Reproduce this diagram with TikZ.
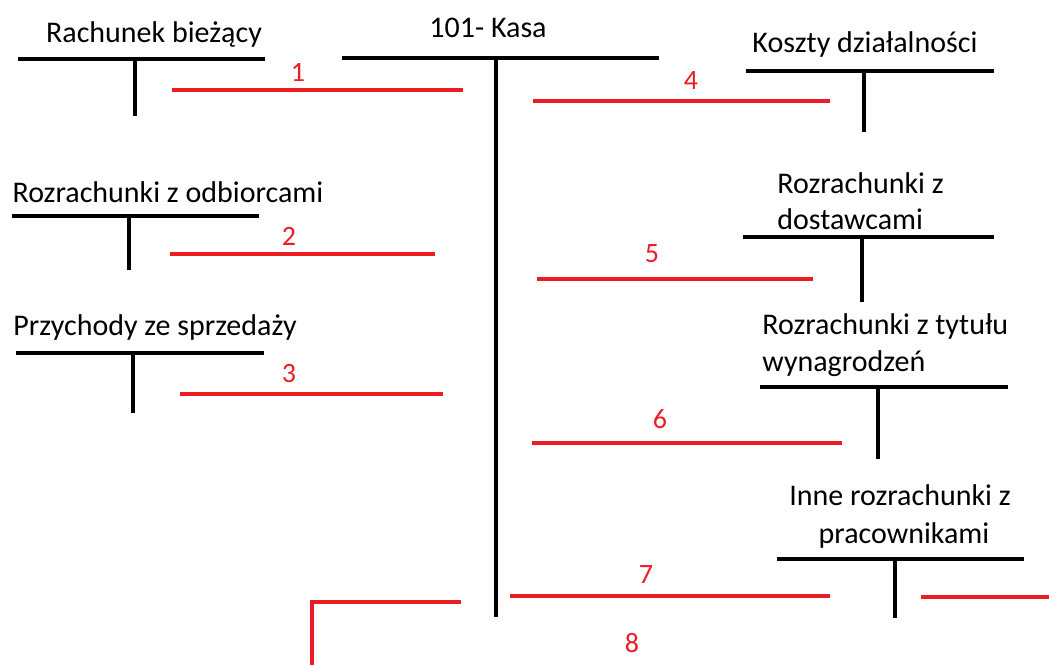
\documentclass[tikz,border=0pt]{standalone}
\usepackage{fontspec}
\setmainfont{Carlito}
\definecolor{czerwony}{RGB}{237,28,36}

\begin{document}
\begin{tikzpicture}[x=0.5pt,y=-0.5pt,
    konto/.style={line width=2pt,black},
    operacja/.style={line width=2pt,czerwony},
    nazwa/.style={anchor=base,inner sep=0pt,font=\fontsize{15}{18}\selectfont},
    numer/.style={anchor=base,inner sep=0pt,text=czerwony,font=\fontsize{14}{16}\selectfont}]
    \useasboundingbox (0,0) rectangle (1049,664);

    % konto glowne
    \node[nazwa] (kasa) at (488,37) {101- Kasa};
    \draw[konto] (342,58) -- (659,58);
    \draw[konto] (496,58) -- (496,617);

    % konta po lewej stronie
    \node[nazwa] (biezacy) at (154,42) {Rachunek bieżący};
    \draw[konto] (18,59) -- (265,59);
    \draw[konto] (135,59) -- (135,116);

    \node[nazwa] (odbiorcy) at (168,202) {Rozrachunki z odbiorcami};
    \draw[konto] (12,216) -- (259,216);
    \draw[konto] (129,216) -- (129,270);

    \node[nazwa] (sprzedaz) at (155,335) {Przychody ze sprzedaży};
    \draw[konto] (16,353) -- (264,353);
    \draw[konto] (133,353) -- (133,413);

    % konta po prawej stronie
    \node[nazwa] (koszty) at (865,52) {Koszty działalności};
    \draw[konto] (746,71) -- (994,71);
    \draw[konto] (864,71) -- (864,132);

    \node[nazwa,anchor=base west] (dostawcy1) at (777,193) {Rozrachunki z};
    \node[nazwa,anchor=base west] (dostawcy2) at (777,229) {dostawcami};
    \draw[konto] (743,237) -- (994,237);
    \draw[konto] (862,237) -- (862,302);

    \node[nazwa,anchor=base west] (place1) at (762,334) {Rozrachunki z tytułu};
    \node[nazwa,anchor=base west] (place2) at (762,371) {wynagrodzeń};
    \draw[konto] (760,387) -- (1008,387);
    \draw[konto] (878,387) -- (878,459);

    \node[nazwa] (inne1) at (900,505) {Inne rozrachunki z};
    \node[nazwa] (inne2) at (904,543) {pracownikami};
    \draw[konto] (777,559) -- (1024,559);
    \draw[konto] (895,559) -- (895,618);

    % operacje
    \draw[operacja] (172,90) -- (463,90);
    \node[numer] (op1) at (298,81) {1};
    \draw[operacja] (170,254) -- (435,254);
    \node[numer] (op2) at (289,245) {2};
    \draw[operacja] (180,394) -- (443,394);
    \node[numer] (op3) at (289,382) {3};
    \draw[operacja] (533,101) -- (830,101);
    \node[numer] (op4) at (691,89) {4};
    \draw[operacja] (537,279) -- (813,279);
    \node[numer] (op5) at (652,262) {5};
    \draw[operacja] (532,443) -- (842,443);
    \node[numer] (op6) at (660,428) {6};
    \draw[operacja] (510,596) -- (830,596);
    \node[numer] (op7) at (646,583) {7};
    \draw[operacja] (921,597) -- (1052,597);
    \draw[operacja] (312,668) -- (312,602) -- (461,602);
    \node[numer] (op8) at (632,652) {8};
\end{tikzpicture}
\end{document}
